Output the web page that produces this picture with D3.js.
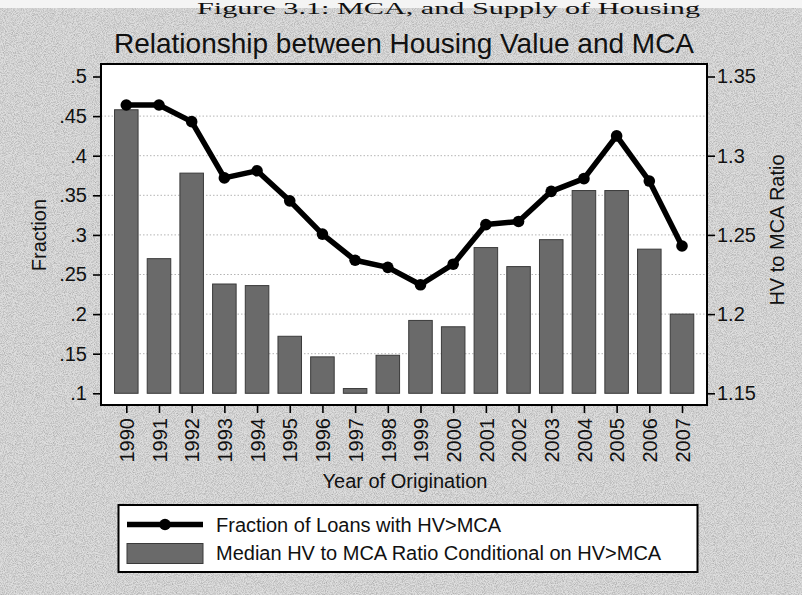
<!DOCTYPE html>
<html>
<head>
<meta charset="utf-8">
<script src="https://cdn.jsdelivr.net/npm/d3@7"></script>
<style>
  html, body { margin: 0; padding: 0; background: #d8d8d8; }
  svg { display: block; }
  text { font-family: "Liberation Sans", Arial, Helvetica, sans-serif; fill: #111; }
</style>
</head>
<body>
<svg id="chart" width="802" height="595"></svg>
<script>
// Years of origination
const years = [1990, 1991, 1992, 1993, 1994, 1995, 1996, 1997, 1998,
               1999, 2000, 2001, 2002, 2003, 2004, 2005, 2006, 2007];

// Fraction of loans with HV > MCA (left axis, line)
const fractionHV = [0.464, 0.464, 0.443, 0.372, 0.381, 0.343, 0.301, 0.268, 0.259,
                    0.237, 0.263, 0.313, 0.317, 0.355, 0.371, 0.425, 0.368, 0.286];

// Median HV to MCA ratio conditional on HV > MCA (right axis, bars)
const medianRatio = [1.329, 1.235, 1.289, 1.219, 1.218, 1.186, 1.173, 1.153, 1.174,
                     1.196, 1.192, 1.242, 1.230, 1.247, 1.278, 1.278, 1.241, 1.200];

const leftTicks  = [0.1, 0.15, 0.2, 0.25, 0.3, 0.35, 0.4, 0.45, 0.5];
const rightTicks = [1.15, 1.2, 1.25, 1.3, 1.35];
const gridTicks  = [0.15, 0.2, 0.25, 0.3, 0.35, 0.4, 0.45];

const titleText  = "Relationship between Housing Value and MCA";
const headerText = "Figure 3.1: MCA, and Supply of Housing";
const legendLabels = ["Fraction of Loans with HV>MCA",
                      "Median HV to MCA Ratio Conditional on HV>MCA"];

const svg = d3.select("#chart");
const W = 802, H = 595;
const plot = { left: 101, right: 707, top: 64, bottom: 405 };

// grainy grey page
const defs = svg.append("defs");
const f = defs.append("filter").attr("id", "grain")
  .attr("x", 0).attr("y", 0).attr("width", "100%").attr("height", "100%");
f.append("feTurbulence").attr("type", "fractalNoise")
  .attr("baseFrequency", 1.1).attr("numOctaves", 2).attr("seed", 3).attr("result", "n");
f.append("feColorMatrix").attr("type", "matrix")
  .attr("values", "0 0 0 0 0  0 0 0 0 0  0 0 0 0 0  0 0 0 -1.8 1.15");

svg.append("rect").attr("width", W).attr("height", H).attr("fill", "#dedede");
svg.append("rect").attr("width", W).attr("height", H)
  .attr("filter", "url(#grain)").attr("opacity", 0.24);

// strip of the page heading above the figure
svg.append("rect").attr("x", 0).attr("y", 0).attr("width", W).attr("height", 8).attr("fill", "#f4f4f4");
svg.append("text").attr("x", 197).attr("y", 14)
  .attr("textLength", 503).attr("lengthAdjust", "spacingAndGlyphs")
  .style("font-family", "'Liberation Serif', 'DejaVu Serif', serif")
  .style("font-size", "17px").text(headerText);

// scales
const x  = d3.scaleLinear().domain([1990, 2007]).range([126.3, 682]);
const yL = d3.scaleLinear().domain([0.1, 0.5]).range([393.3, 76.5]);
const yR = d3.scaleLinear().domain([1.15, 1.35]).range([393.3, 76.5]);
const step = x(1991) - x(1990);
const barW = step * 0.72;

// plot region
svg.append("rect")
  .attr("x", plot.left).attr("y", plot.top)
  .attr("width", plot.right - plot.left).attr("height", plot.bottom - plot.top)
  .attr("fill", "#ffffff");

// gridlines
svg.append("g").selectAll("line").data(gridTicks).join("line")
  .attr("x1", plot.left).attr("x2", plot.right)
  .attr("y1", d => yL(d)).attr("y2", d => yL(d))
  .attr("stroke", "#b4b4b4").attr("stroke-width", 1)
  .attr("stroke-dasharray", "1.5,2");

// bars on the right axis, based at its lowest tick
svg.append("g").selectAll("rect").data(years).join("rect")
  .attr("x", (d) => x(d) - barW / 2)
  .attr("y", (d, i) => yR(medianRatio[i]))
  .attr("width", barW)
  .attr("height", (d, i) => yR(1.15) - yR(medianRatio[i]))
  .attr("fill", "#6a6a6a").attr("stroke", "#3a3a3a").attr("stroke-width", 1);

// line on the left axis
const pts = years.map((d, i) => [x(d), yL(fractionHV[i])]);
svg.append("path").datum(pts)
  .attr("d", d3.line())
  .attr("fill", "none").attr("stroke", "#000").attr("stroke-width", 5.5)
  .attr("stroke-linejoin", "round");
svg.append("g").selectAll("circle").data(pts).join("circle")
  .attr("cx", d => d[0]).attr("cy", d => d[1]).attr("r", 5.8).attr("fill", "#000");

// plot outline
svg.append("rect")
  .attr("x", plot.left).attr("y", plot.top)
  .attr("width", plot.right - plot.left).attr("height", plot.bottom - plot.top)
  .attr("fill", "none").attr("stroke", "#000").attr("stroke-width", 2);

const fmt = d => d3.format(".2~f")(d).replace(/^0\./, ".");

// left axis
const gL = svg.append("g").attr("transform", `translate(${plot.left},0)`)
  .call(d3.axisLeft(yL).tickValues(leftTicks).tickFormat(fmt).tickSize(8).tickPadding(6));
// right axis
const gR = svg.append("g").attr("transform", `translate(${plot.right},0)`)
  .call(d3.axisRight(yR).tickValues(rightTicks).tickFormat(d3.format(".2~f")).tickSize(8).tickPadding(2));
// bottom axis
const gB = svg.append("g").attr("transform", `translate(0,${plot.bottom})`)
  .call(d3.axisBottom(x).tickValues(years).tickFormat(d3.format("d")).tickSize(8));
gB.selectAll("text")
  .attr("transform", "rotate(-90)")
  .attr("text-anchor", "end")
  .attr("x", -13).attr("y", 0).attr("dy", "0.36em");

[gL, gR, gB].forEach(g => {
  g.select(".domain").remove();
  g.selectAll(".tick line").attr("stroke", "#000").attr("stroke-width", 1.6);
  g.selectAll("text").style("font-size", "20px").style("font-family", "'Liberation Sans', Arial, sans-serif").attr("fill", "#111");
});

// titles
svg.append("text").attr("x", 404).attr("y", 53).attr("text-anchor", "middle")
  .style("font-size", "28px").text(titleText);
svg.append("text").attr("transform", "translate(46,235) rotate(-90)")
  .attr("text-anchor", "middle").style("font-size", "20px").text("Fraction");
svg.append("text").attr("transform", "translate(784,230) rotate(-90)")
  .attr("text-anchor", "middle").style("font-size", "20px").text("HV to MCA Ratio");
svg.append("text").attr("x", 405).attr("y", 488).attr("text-anchor", "middle")
  .style("font-size", "20px").text("Year of Origination");

// legend
const lg = svg.append("g");
lg.append("rect").attr("x", 118.5).attr("y", 505).attr("width", 579).attr("height", 67)
  .attr("fill", "#ffffff").attr("stroke", "#000").attr("stroke-width", 2);
lg.append("line").attr("x1", 127).attr("x2", 203).attr("y1", 524.5).attr("y2", 524.5)
  .attr("stroke", "#000").attr("stroke-width", 5.5);
lg.append("circle").attr("cx", 165).attr("cy", 524.5).attr("r", 5.8).attr("fill", "#000");
lg.append("rect").attr("x", 127).attr("y", 543.5).attr("width", 76).attr("height", 20)
  .attr("fill", "#6a6a6a").attr("stroke", "#3a3a3a").attr("stroke-width", 1);
lg.selectAll("text.lab").data(legendLabels).join("text").attr("class", "lab")
  .attr("x", 216).attr("y", (d, i) => 532 + i * 28)
  .style("font-size", "20px").text(d => d);
</script>
</body>
</html>
